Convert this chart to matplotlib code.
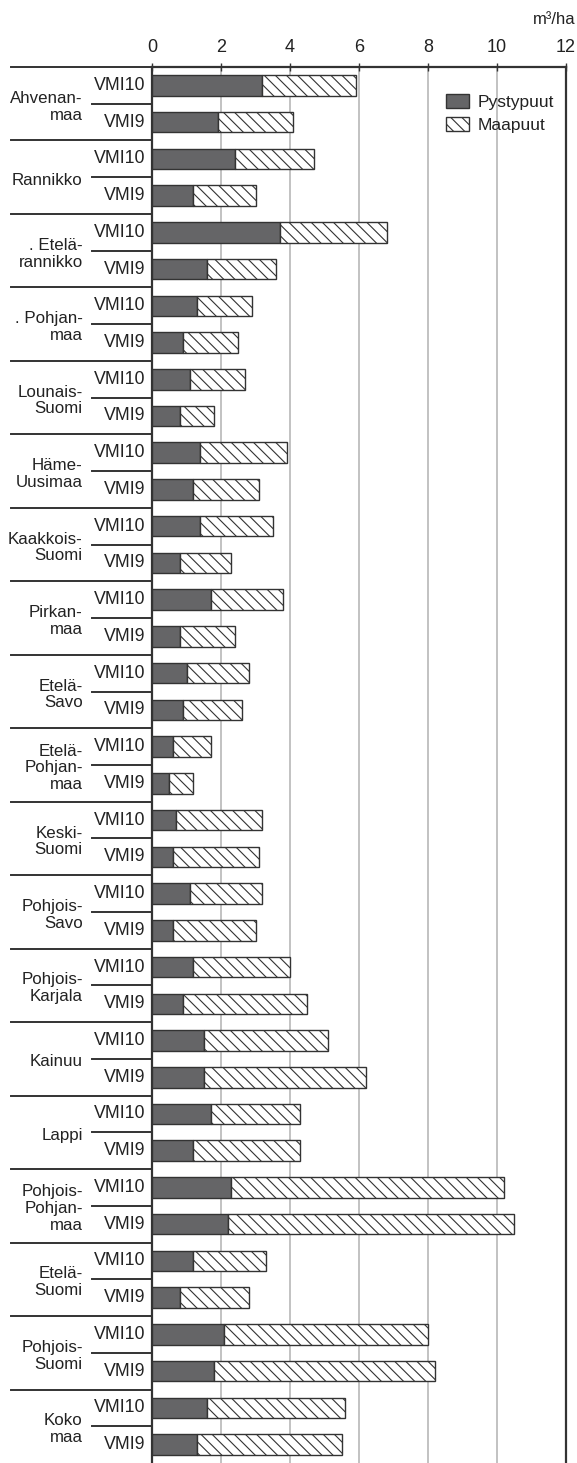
import numpy as np
import matplotlib
matplotlib.use('Agg')
import matplotlib.pyplot as plt
from matplotlib.patches import Patch

plt.rcParams['font.family'] = ['Liberation Sans', 'DejaVu Sans']
plt.rcParams['hatch.linewidth'] = 0.8
plt.rcParams['hatch.color'] = '#333333'

#Data (m3/ha)
groups = ['Ahvenan-\nmaa', 'Rannikko', '. Etelä-\nrannikko', '. Pohjan-\nmaa',
          'Lounais-\nSuomi', 'Häme-\nUusimaa', 'Kaakkois-\nSuomi', 'Pirkan-\nmaa',
          'Etelä-\nSavo', 'Etelä-\nPohjan-\nmaa', 'Keski-\nSuomi', 'Pohjois-\nSavo',
          'Pohjois-\nKarjala', 'Kainuu', 'Lappi', 'Pohjois-\nPohjan-\nmaa',
          'Etelä-\nSuomi', 'Pohjois-\nSuomi', 'Koko\nmaa']
inventories = ['VMI10', 'VMI9']
pysty_vmi10 = [3.2, 2.4, 3.7, 1.3, 1.1, 1.4, 1.4, 1.7, 1.0, 0.6, 0.7, 1.1, 1.2, 1.5, 1.7, 2.3, 1.2, 2.1, 1.6]
maa_vmi10 = [2.7, 2.3, 3.1, 1.6, 1.6, 2.5, 2.1, 2.1, 1.8, 1.1, 2.5, 2.1, 2.8, 3.6, 2.6, 7.9, 2.1, 5.9, 4.0]
pysty_vmi9 = [1.9, 1.2, 1.6, 0.9, 0.8, 1.2, 0.8, 0.8, 0.9, 0.5, 0.6, 0.6, 0.9, 1.5, 1.2, 2.2, 0.8, 1.8, 1.3]
maa_vmi9 = [2.2, 1.8, 2.0, 1.6, 1.0, 1.9, 1.5, 1.6, 1.7, 0.7, 2.5, 2.4, 3.6, 4.7, 3.1, 8.3, 2.0, 6.4, 4.2]
xticks = [0, 2, 4, 6, 8, 10, 12]

n = len(groups)
y10 = np.arange(n) * 2
y9 = y10 + 1

dark = '#656567'
edge = '#333333'
txt = '#222222'

fig = plt.figure(figsize=(5.77, 14.63), dpi=100)
ax = fig.add_axes([152/577, 0.0, 414/577, 1 - 67/1463])

h = 0.56
for y, p, m in [(y10, pysty_vmi10, maa_vmi10), (y9, pysty_vmi9, maa_vmi9)]:
    ax.barh(y, p, height=h, color=dark, edgecolor=edge, linewidth=1.0, zorder=3)
    ax.barh(y, m, left=p, height=h, color='white', edgecolor=edge, linewidth=1.0,
            hatch='\\\\\\', zorder=3)

ax.set_xlim(0, 12)
ax.set_ylim(2*n - 0.5, -0.5)
ax.set_xticks(xticks)
ax.xaxis.tick_top()
ax.tick_params(axis='x', direction='inout', length=6, width=1, color=edge,
               labelsize=13, labelcolor=txt, pad=5)
ax.set_yticks([])
ax.grid(axis='x', color='#bdbdbd', linewidth=1.3, zorder=0)

for s in ['left', 'right', 'top']:
    ax.spines[s].set_linewidth(1.6)
    ax.spines[s].set_color(edge)
ax.spines['bottom'].set_visible(False)

# row labels and separators left of the axis
for i in range(n):
    ax.plot([-0.3406, 0], [2*i - 0.5, 2*i - 0.5], transform=ax.get_yaxis_transform(),
            color=edge, linewidth=1.4, clip_on=False)
    ax.plot([-0.145, 0], [2*i + 0.5, 2*i + 0.5], transform=ax.get_yaxis_transform(),
            color=edge, linewidth=1.4, clip_on=False)
    for k, lab in enumerate(inventories):
        ax.text(-0.017, 2*i + k, lab, transform=ax.get_yaxis_transform(),
                ha='right', va='center', fontsize=12.8, color=txt)
    ax.text(-0.167, 2*i + 0.58, groups[i], transform=ax.get_yaxis_transform(),
            ha='right', va='center', fontsize=12.2, color=txt, linespacing=1.15)

fig.text(0.997, 1 - 20/1463, 'm³/ha', ha='right', va='center', fontsize=12, color=txt)

handles = [Patch(facecolor=dark, edgecolor=edge, linewidth=1.0, label='Pystypuut'),
           Patch(facecolor='white', edgecolor=edge, linewidth=1.0, hatch='\\\\\\', label='Maapuut')]
ax.legend(handles=handles, loc='upper left', bbox_to_anchor=(446/577, 1 - 94/1463),
          bbox_transform=fig.transFigure, frameon=False, fontsize=12.5,
          handlelength=1.3, handleheight=0.85, handletextpad=0.5, labelspacing=0.4,
          borderpad=0, borderaxespad=0, labelcolor=txt)

fig.savefig('out.png', dpi=100)
